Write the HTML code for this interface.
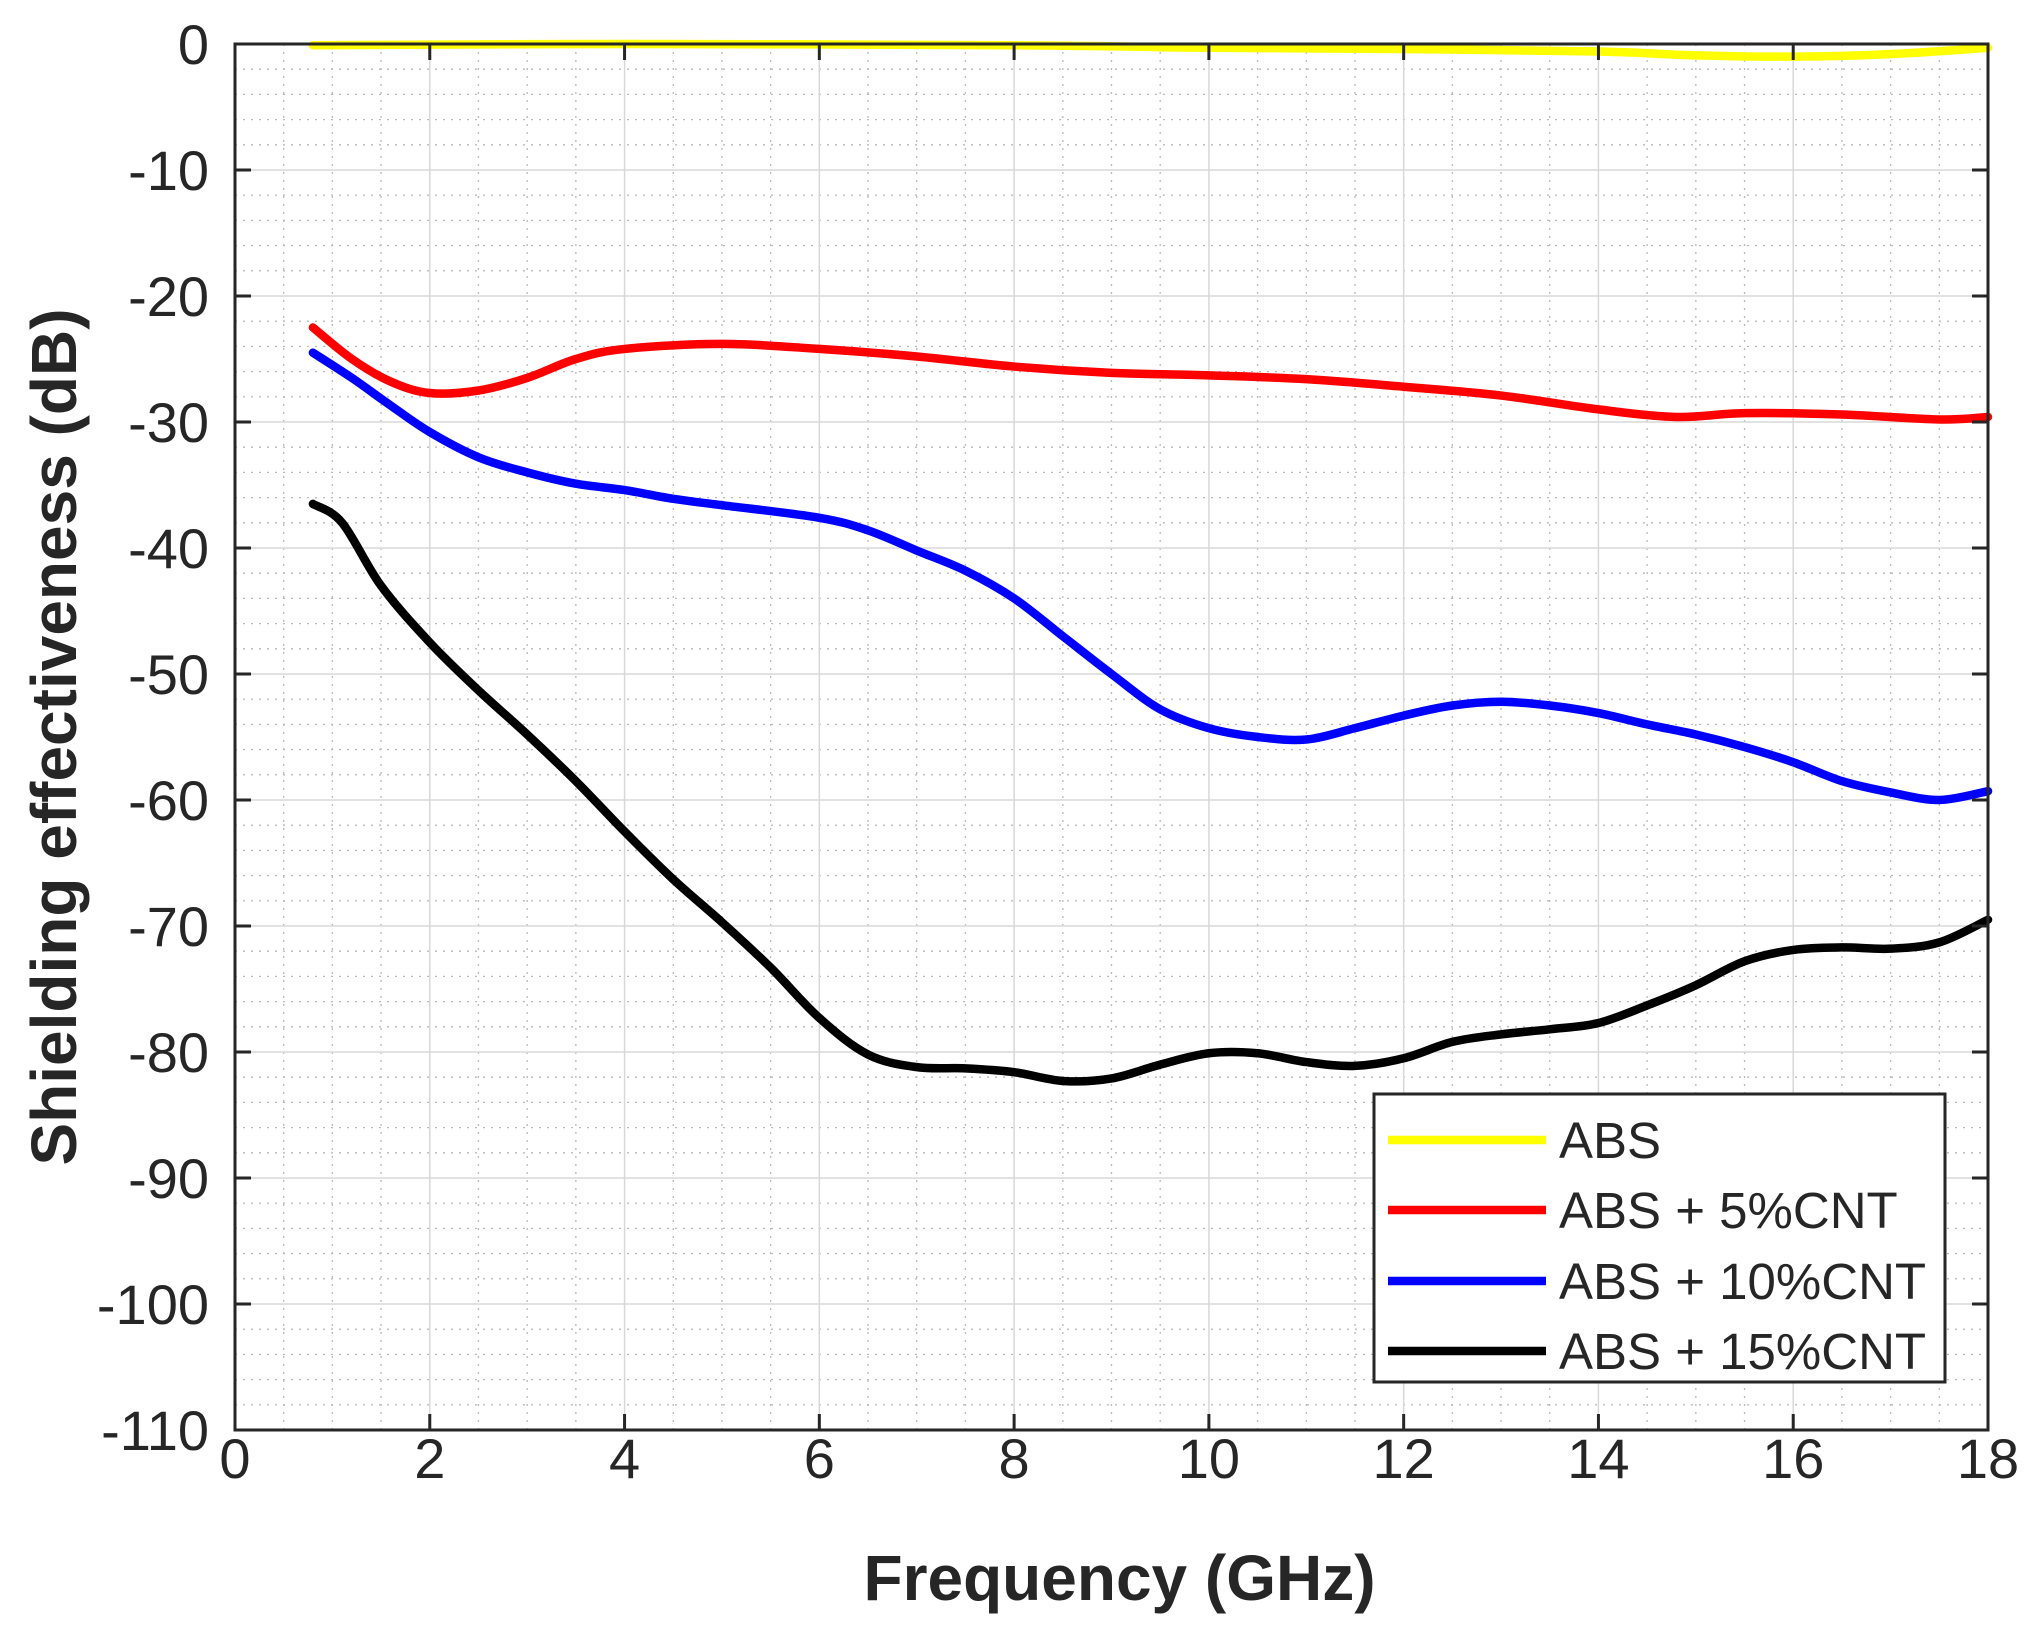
<!DOCTYPE html>
<html><head><meta charset="utf-8">
<style>html,body{margin:0;padding:0;background:#fff}svg{display:block}</style>
</head><body>
<svg id="s" width="2037" height="1630" xmlns="http://www.w3.org/2000/svg" font-family="Liberation Sans, Arial, sans-serif"></svg>
<script>
const L=235,R=1988,T=44,B=1430;
const X=x=>L+(R-L)*x/18, Y=y=>T+(B-T)*(-y)/110;
let h='';
for(let x=0.5;x<18;x+=0.5){if(Math.abs(x-Math.round(x/2)*2)<1e-6)continue;h+=`<line x1="${X(x)}" y1="${T}" x2="${X(x)}" y2="${B}" stroke="#bbb" stroke-width="1.3" stroke-dasharray="2,6"/>`;}
for(let y=-2;y>-110;y-=2){if(y%10===0)continue;h+=`<line x1="${L}" y1="${Y(y)}" x2="${R}" y2="${Y(y)}" stroke="#bbb" stroke-width="1.3" stroke-dasharray="2,6"/>`;}
for(let x=2;x<18;x+=2)h+=`<line x1="${X(x)}" y1="${T}" x2="${X(x)}" y2="${B}" stroke="#d8d8d8" stroke-width="1.5"/>`;
for(let y=-10;y>-110;y-=10)h+=`<line x1="${L}" y1="${Y(y)}" x2="${R}" y2="${Y(y)}" stroke="#d8d8d8" stroke-width="1.5"/>`;
function path(d,c){let p=d.map(a=>[X(a[0]),Y(a[1])]);let s=`M${p[0][0]},${p[0][1]}`;
for(let i=0;i<p.length-1;i++){const p0=p[Math.max(0,i-1)],p1=p[i],p2=p[i+1],p3=p[Math.min(p.length-1,i+2)];
s+=` C${p1[0]+(p2[0]-p0[0])/6},${p1[1]+(p2[1]-p0[1])/6} ${p2[0]-(p3[0]-p1[0])/6},${p2[1]-(p3[1]-p1[1])/6} ${p2[0]},${p2[1]}`;}
return `<path d="${s}" fill="none" stroke="${c}" stroke-width="8.5" stroke-linejoin="round" stroke-linecap="round"/>`;}
const yel=[[0.8,-0.1],[4,0],[8,-0.1],[10,-0.3],[12,-0.4],[14,-0.6],[15,-0.9],[16,-1],[17,-0.8],[18,-0.3]];
const red=[[0.8,-22.5],[1.2,-25],[1.6,-26.8],[2,-27.7],[2.5,-27.5],[3,-26.5],[3.5,-25],[4,-24.2],[5,-23.8],[6,-24.2],[7,-24.8],[8,-25.6],[9,-26.1],[10,-26.3],[11,-26.6],[12,-27.2],[13,-27.9],[14,-29],[14.8,-29.6],[15.5,-29.3],[16.5,-29.4],[17.5,-29.8],[18,-29.6]];
const blu=[[0.8,-24.5],[1.2,-26.5],[1.6,-28.7],[2,-30.8],[2.5,-32.8],[3,-34],[3.5,-34.9],[4,-35.4],[4.5,-36.1],[5,-36.6],[6,-37.6],[6.5,-38.6],[7,-40.2],[7.5,-41.8],[8,-44],[8.5,-47],[9,-50],[9.5,-52.8],[10,-54.3],[10.5,-55],[11,-55.2],[11.5,-54.3],[12,-53.3],[12.5,-52.5],[13,-52.2],[13.5,-52.5],[14,-53.1],[14.5,-54],[15,-54.8],[15.5,-55.8],[16,-57],[16.5,-58.5],[17,-59.4],[17.5,-60],[18,-59.3]];
const blk=[[0.8,-36.5],[1.1,-38],[1.5,-43],[2,-47.5],[2.5,-51.3],[3,-54.8],[3.5,-58.5],[4,-62.5],[4.5,-66.3],[5,-69.7],[5.5,-73.3],[6,-77.3],[6.5,-80.2],[7,-81.2],[7.5,-81.3],[8,-81.6],[8.5,-82.3],[9,-82.1],[9.5,-81],[10,-80.1],[10.5,-80.1],[11,-80.8],[11.5,-81.1],[12,-80.5],[12.5,-79.2],[13,-78.6],[13.5,-78.2],[14,-77.7],[14.5,-76.3],[15,-74.7],[15.5,-72.8],[16,-71.9],[16.5,-71.7],[17,-71.8],[17.5,-71.3],[18,-69.5]];
h+=path(yel,'#ffff00')+path(red,'#ff0000')+path(blu,'#0000ff')+path(blk,'#000000');
h+=`<rect x="${L}" y="${T}" width="${R-L}" height="${B-T}" fill="none" stroke="#262626" stroke-width="3"/>`;
for(let x=0;x<=18;x+=2){h+=`<line x1="${X(x)}" y1="${B}" x2="${X(x)}" y2="${B-16}" stroke="#262626" stroke-width="3"/><line x1="${X(x)}" y1="${T}" x2="${X(x)}" y2="${T+16}" stroke="#262626" stroke-width="3"/>`;
h+=`<text x="${X(x)}" y="${B+48}" font-size="56" text-anchor="middle" fill="#262626">${x}</text>`;}
for(let y=0;y>=-110;y-=10){h+=`<line x1="${L}" y1="${Y(y)}" x2="${L+16}" y2="${Y(y)}" stroke="#262626" stroke-width="3"/><line x1="${R}" y1="${Y(y)}" x2="${R-16}" y2="${Y(y)}" stroke="#262626" stroke-width="3"/>`;
h+=`<text x="${L-26}" y="${Y(y)+20}" font-size="56" text-anchor="end" fill="#262626">${y}</text>`;}
h+=`<text x="${(L+R)/2+8}" y="1600" font-size="64" font-weight="bold" text-anchor="middle" fill="#262626">Frequency (GHz)</text>`;
h+=`<text transform="translate(76,737) rotate(-90)" font-size="64" font-weight="bold" text-anchor="middle" fill="#262626">Shielding effectiveness (dB)</text>`;
h+=`<rect x="1374" y="1094" width="571" height="288" fill="#fff" stroke="#262626" stroke-width="3"/>`;
[['ABS','#ffff00',1140],['ABS + 5%CNT','#ff0000',1210],['ABS + 10%CNT','#0000ff',1281],['ABS + 15%CNT','#000000',1351]].forEach(a=>{
h+=`<line x1="1388" y1="${a[2]}" x2="1546" y2="${a[2]}" stroke="${a[1]}" stroke-width="8.5"/><text x="1559" y="${a[2]+18}" font-size="51" fill="#262626">${a[0]}</text>`;});
document.getElementById('s').innerHTML=h;
</script>
</body></html>
